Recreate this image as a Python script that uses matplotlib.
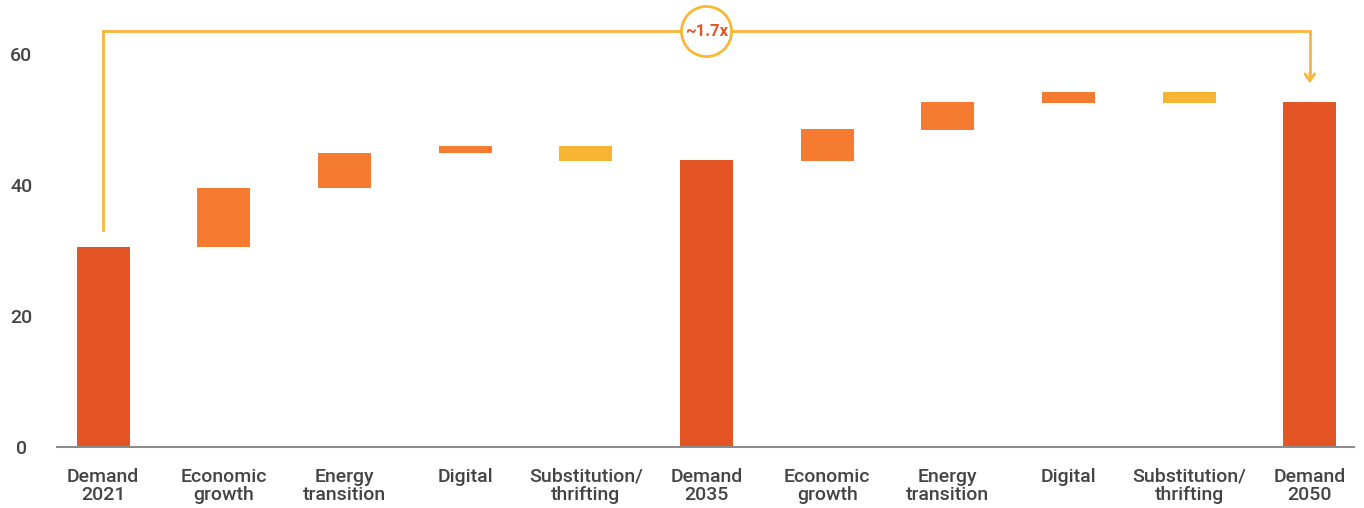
import matplotlib.pyplot as plt

# Data
labels = ["Demand\n2021", "Economic\ngrowth", "Energy\ntransition", "Digital",
          "Substitution/\nthrifting", "Demand\n2035", "Economic\ngrowth",
          "Energy\ntransition", "Digital", "Substitution/\nthrifting", "Demand\n2050"]
bar_bottom = [0, 30.5, 39.6, 44.9, 43.7, 0, 43.7, 48.4, 52.5, 52.5, 0]
bar_top = [30.5, 39.6, 44.9, 45.9, 45.9, 43.8, 48.5, 52.7, 54.2, 54.2, 52.7]
kind = ["total", "up", "up", "up", "down", "total", "up", "up", "up", "down", "total"]
y_ticks = [0, 20, 40, 60]
multiplier = "~1.7x"

colors = {"total": "#E35525", "up": "#F47B30", "down": "#F8B534"}
line_col = "#F9B73A"
text_col = "#444444"

plt.rcParams['font.family'] = ['Roboto', 'DejaVu Sans']

fig = plt.figure(figsize=(13.64, 5.08), dpi=100)
ax = fig.add_axes([0.042, 0.12, 0.951, 0.877])

x = list(range(len(labels)))
heights = [t - b for t, b in zip(bar_top, bar_bottom)]
ax.bar(x, heights, bottom=bar_bottom, width=0.44,
       color=[colors[k] for k in kind], zorder=2)

ax.set_xlim(-0.38, 10.37)
ax.set_ylim(0, 68)
ax.set_xticks(x)
ax.set_xticklabels(labels, fontsize=14, color=text_col, linespacing=1.0,
                   fontweight='medium')
ax.set_yticks(y_ticks)
ax.set_yticklabels([str(v) for v in y_ticks], fontsize=14, color=text_col,
                   fontweight='medium', ha='center')
ax.tick_params(axis='y', length=0, pad=26)
ax.tick_params(axis='x', length=0, pad=15)

for s in ['top', 'right', 'left']:
    ax.spines[s].set_visible(False)
ax.spines['bottom'].set_color('#8c8c8c')
ax.spines['bottom'].set_linewidth(1.5)

# growth bracket from 2021 to 2050
y_br = 63.5
ax.plot([0, 0, 10, 10], [33.2, y_br, y_br, 56.5], color=line_col, lw=2,
        solid_joinstyle='miter', zorder=3)
ax.annotate('', xy=(10, 55.1), xytext=(10, 57.5),
            arrowprops=dict(arrowstyle='->,head_length=0.5,head_width=0.35',
                            color=line_col, lw=2), zorder=3)
ax.scatter([5], [y_br], s=1300, facecolor='white', edgecolor=line_col,
           linewidth=2, zorder=4, clip_on=False)
ax.text(5, y_br, multiplier, ha='center', va='center', fontsize=12,
        fontweight='bold', color=colors["total"], zorder=5)

fig.savefig('out.png', dpi=100)
